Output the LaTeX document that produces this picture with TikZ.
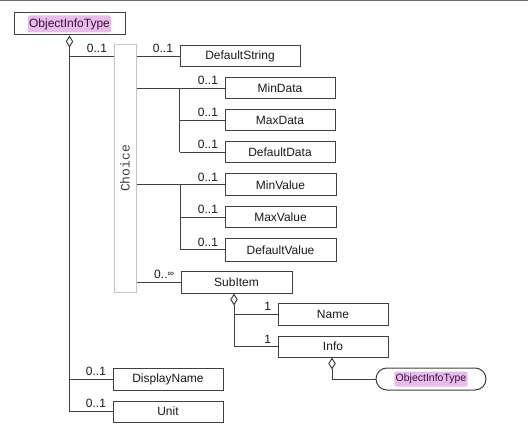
\documentclass[tikz,border=0pt]{standalone}
\usepackage{fontspec}
\setmainfont{Liberation Sans}
\newfontfamily\monofam{Liberation Mono}
\usetikzlibrary{arrows.meta}
\definecolor{ln}{HTML}{404040}
\definecolor{hlpink}{HTML}{E8BCE8}
\definecolor{hltext}{HTML}{3A1040}
\definecolor{chgray}{HTML}{C4C4C4}
\definecolor{topgray}{HTML}{707070}
\tikzset{
  box/.style={draw=ln, line width=1pt, fill=white, minimum width=110pt, minimum height=21pt, inner sep=0pt, font=\fontsize{12}{14}\selectfont, text=black!90},
  hl/.style={fill=hlpink, rounded corners=2pt, inner xsep=1.2pt, inner ysep=0pt, minimum height=17pt, text=hltext, font=\fontsize{12}{14}\selectfont},
  conn/.style={draw=ln, line width=1pt},
  agg/.style={conn, -{Diamond[open, length=12pt, width=7.5pt, line width=1pt]}},
  lab/.style={anchor=south east, inner sep=0pt, xshift=-6pt, yshift=3pt, font=\fontsize{12}{14}\selectfont, text=black!90},
}
\begin{document}
\begin{tikzpicture}[x=1pt, y=-1pt]
\useasboundingbox (0,0) rectangle (528,425);
\fill[topgray] (0,0) rectangle (528,1.5);

% nodes
\node[box, minimum width=111pt, minimum height=22pt] (top) at (69.5,24) {};
\node[hl] (toplab) at (top) {ObjectInfoType};

\node[draw=chgray, line width=1pt, fill=white, minimum width=22pt, minimum height=247pt, inner sep=0pt] (choice) at (125,168.5) {};
\node[rotate=90, font=\monofam\fontsize{13}{13}\selectfont, text=black!75, inner sep=0pt] (choicelab) at (choice) {Choice};

\node[box, minimum width=120pt] (dstr) at (240,56.5) {DefaultString};
\node[box] (mindata) at (280,88.5) {MinData};
\node[box] (maxdata) at (280,120.5) {MaxData};
\node[box] (defdata) at (280,152.5) {DefaultData};
\node[box, minimum width=111pt, minimum height=22pt] (minval) at (280.5,185) {MinValue};
\node[box, minimum width=111pt] (maxval) at (280.5,217.5) {MaxValue};
\node[box, minimum width=111pt, minimum height=22pt] (defval) at (280.5,250) {DefaultValue};
\node[box, minimum width=111pt, minimum height=22pt] (subitem) at (236.5,282) {SubItem};
\node[box, minimum height=22pt] (name) at (333,314) {Name};
\node[box] (info) at (333,346.5) {Info};
\node[box, minimum height=22pt] (dispname) at (168,379) {DisplayName};
\node[box] (unit) at (168,411.5) {Unit};
\node[box, minimum height=22pt, rounded corners=11pt] (pill) at (431,379) {};
\node[hl, minimum height=15pt, font=\fontsize{10.5}{12}\selectfont] (pilllab) at (pill) {ObjectInfoType};

% helper coordinates
\coordinate (g1) at (dstr.west |- mindata.west);
\coordinate (g2) at (subitem.west |- minval.west);

% top-level aggregation
\draw[agg] (top.south |- unit.west) -- (top.south);
\draw[conn] (top.south |- dstr.west) -- (choice.west |- dstr.west) node[lab]{0..1};
\draw[conn] (top.south |- dispname.west) -- (dispname.west) node[lab]{0..1};
\draw[conn] (top.south |- unit.west) -- (unit.west) node[lab]{0..1};

% choice branches
\draw[conn] (choice.east |- dstr.west) -- (dstr.west) node[lab]{0..1};
\draw[conn] (choice.east |- mindata.west) -- (g1);
\draw[conn] (g1) -- (g1 |- defdata.west);
\draw[conn] (g1) -- (mindata.west) node[lab]{0..1};
\draw[conn] (g1 |- maxdata.west) -- (maxdata.west) node[lab]{0..1};
\draw[conn] (g1 |- defdata.west) -- (defdata.west) node[lab]{0..1};

\draw[conn] (choice.east |- minval.west) -- (g2);
\draw[conn] (g2) -- (g2 |- defval.west);
\draw[conn] (g2) -- (minval.west) node[lab]{0..1};
\draw[conn] (g2 |- maxval.west) -- (maxval.west) node[lab]{0..1};
\draw[conn] (g2 |- defval.west) -- (defval.west) node[lab]{0..1};

\draw[conn] (choice.east |- subitem.west) -- (subitem.west) node[lab]{0..\raisebox{0.25ex}{\fontsize{9}{10}\selectfont ∞}};

% SubItem aggregation
\coordinate (sd) at ([xshift=-2.5pt]subitem.south);
\draw[agg] (sd |- info.west) -- (sd);
\draw[conn] (sd |- name.west) -- (name.west) node[lab]{1};
\draw[conn] (sd |- info.west) -- (info.west) node[lab]{1};

% Info aggregation
\draw[agg] (pill.west) -| ([xshift=-1pt]info.south);
\end{tikzpicture}
\end{document}
